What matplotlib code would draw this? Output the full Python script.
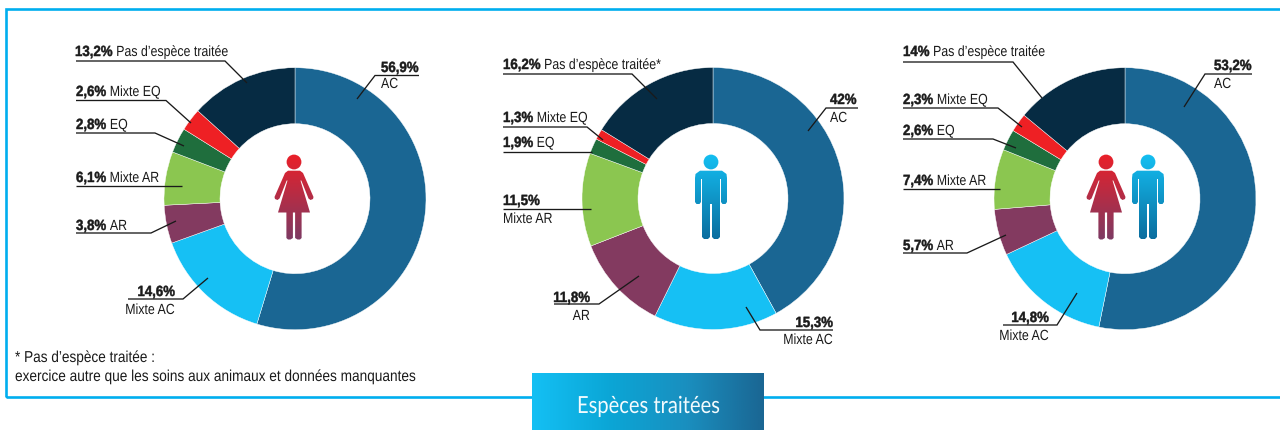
import numpy as np
import matplotlib
matplotlib.use("Agg")
import matplotlib.pyplot as plt
from matplotlib.colors import LinearSegmentedColormap
from matplotlib.patches import PathPatch, Rectangle
from matplotlib.path import Path
from matplotlib.patheffects import AbstractPathEffect
from matplotlib.transforms import Affine2D, Bbox

# ---- data ----
categories = ["AC", "Mixte AC", "AR", "Mixte AR", "EQ", "Mixte EQ", "Pas d\u2019esp\u00e8ce trait\u00e9e"]
# slice shares as drawn in the picture
values_women = [54.7, 14.8, 4.7, 6.6, 3.1, 2.8, 13.3]
values_men = [42.0, 15.3, 11.8, 11.5, 1.9, 1.3, 16.2]
values_all = [53.2, 14.8, 5.7, 7.4, 2.6, 2.3, 14.0]
# shares as printed in the labels
pct_women = ["56,9%", "14,6%", "3,8%", "6,1%", "2,8%", "2,6%", "13,2%"]
pct_men = ["42%", "15,3%", "11,8%", "11,5%", "1,9%", "1,3%", "16,2%"]
pct_all = ["53,2%", "14,8%", "5,7%", "7,4%", "2,6%", "2,3%", "14%"]
colors = ["#1a6693", "#16c0f4", "#833a60", "#8bc650", "#1f6e3d", "#ee2024", "#062b43"]

# ---- layout (pixels, y from the top) ----
W, H = 1280, 430
R_OUT, R_IN = 131, 75
lay_women = [
    (381, 72, "left", "above", 88, [(419, 75.5), (375, 75.5), (357, 99)]),
    (175, 296, "right", "above", 314, [(128, 299), (183, 299), (208, 278)]),
    (76, 230, "left", "inline", None, [(76, 233), (151, 233), (176, 221)]),
    (76, 182, "left", "inline", None, [(76, 186), (182, 186)]),
    (76, 129, "left", "inline", None, [(76, 133), (155, 133), (184, 146)]),
    (76, 96, "left", "inline", None, [(76, 100.5), (166, 100.5), (191, 123)]),
    (75, 56, "left", "inline", None, [(76, 61), (225, 61), (247, 83)]),
]
lay_men = [
    (830, 104, "left", "above", 122, [(858, 108), (826, 108), (808, 131)]),
    (833, 327, "right", "above", 344, [(833, 330), (760, 330), (746, 307)]),
    (590, 302, "right", "above", 320, [(554, 304), (599, 304), (639, 276)]),
    (503, 205, "left", "above", 223, [(503, 209), (591, 209)]),
    (503, 147, "left", "inline", None, [(503, 152), (592, 152)]),
    (503, 122, "left", "inline", None, [(503, 127), (587, 127), (603, 140)]),
    (503, 69, "left", "inline", None, [(503, 74), (632, 74), (657, 99)]),
]
lay_all = [
    (1214, 70, "left", "above", 88, [(1252, 74), (1205, 74), (1184, 107)]),
    (1049, 322, "right", "above", 340, [(1003, 325), (1057, 325), (1077, 293)]),
    (903, 250, "left", "inline", None, [(903, 253), (967, 253), (1006, 235)]),
    (903, 185, "left", "inline", None, [(903, 189), (1000, 189)]),
    (903, 135, "left", "inline", None, [(903, 139), (993, 139), (1016, 148)]),
    (903, 104, "left", "inline", None, [(903, 108), (998, 108), (1022, 127)]),
    (903, 56, "left", "inline", None, [(903, 62), (1013, 62), (1042, 98)]),
]

FONT = "Liberation Sans"
FS = 10.6
SX_REG = 0.84
SX_BOLD = 0.9
TXT = "#1a1a1a"
LINE = "#1a1a1a"

fig = plt.figure(figsize=(W / 100, H / 100), dpi=100, facecolor="white")
ax = fig.add_axes([0, 0, 1, 1])
rend = fig.canvas.get_renderer()


class Condense(AbstractPathEffect):
    """Draws real text squeezed horizontally, anchored on its left edge."""
    def __init__(self, sx, stroke=0.0, color=TXT):
        super().__init__()
        self.sx = sx
        self.stroke = stroke
        self.color = color

    def draw_path(self, renderer, gc, tpath, affine, rgbFace=None):
        tr = Affine2D().scale(self.sx, 1) + affine
        g = gc
        if self.stroke:
            g = renderer.new_gc()
            g.copy_properties(gc)
            g.set_foreground(self.color)
            g.set_linewidth(self.stroke)
        renderer.draw_path(g, tpath, tr, rgbFace)


def ctext(x, y, s, ha="left", sx=SX_REG, fit=None, zorder=6, stroke=0.0, **kw):
    kw.setdefault("family", FONT)
    kw.setdefault("fontsize", FS)
    kw.setdefault("color", TXT)
    t = ax.text(x, Y(y), s, ha="left", va="baseline", zorder=zorder, **kw)
    w = t.get_window_extent(rend).width
    if fit is not None:
        sx = fit / w
    off = {"left": 0, "right": sx * w, "center": sx * w / 2}[ha]
    t.set_x(x - off)
    t.set_path_effects([Condense(sx, stroke, kw["color"])])
    # report the drawn (squeezed) extent rather than the natural one
    orig = t.get_window_extent

    def extent(renderer=None, dpi=None, _o=orig, _s=sx):
        b = _o(renderer, dpi)
        return Bbox.from_extents(b.x0, b.y0, b.x0 + _s * b.width, b.y1)

    t.get_window_extent = extent
    return x - off + sx * w


def Y(y):
    return H - y


def reset():
    ax.set_xlim(0, W)
    ax.set_ylim(0, H)
    ax.set_aspect("auto")
    ax.axis("off")


reset()


def donut(cx, cy, vals):
    ax.pie(vals, colors=colors, center=(cx, Y(cy)), radius=R_OUT, startangle=90,
           counterclock=False, frame=True,
           wedgeprops=dict(width=R_OUT - R_IN, edgecolor="white", linewidth=0.3))
    reset()


def labels(lay, pcts, star=False):
    for i, (x, b, al, mode, b2, pts) in enumerate(lay):
        name = categories[i] + ("*" if star and i == 6 else "")
        ax.plot([p[0] for p in pts], [Y(p[1]) for p in pts], color=LINE, lw=0.95,
                solid_capstyle="butt", solid_joinstyle="miter", zorder=5)
        end = ctext(x, b, pcts[i], ha=al, weight="bold", sx=SX_BOLD, stroke=0.35)
        if mode == "inline":
            ctext(end + 3.5, b, name)
        else:
            ctext(x, b2, name, ha=al)


def mirror(right):
    pts = right + [(-a, b) for a, b in reversed(right)]
    return np.array(pts)


WOMAN = mirror([(0, 8.7), (6, 8.7), (9, 11), (19.5, 35), (19, 37), (16.5, 38), (14.5, 36.5),
                (7.3, 18.5), (6.5, 18.5), (16, 50.5), (7.6, 50.5), (7.6, 76), (6, 77.5),
                (3.5, 77.5), (1.1, 76), (1.1, 50.5), (0, 50.5)])
MAN = mirror([(0, 8.7), (11, 8.7), (15.5, 12), (16, 16), (16, 40), (14.5, 42), (11.5, 42), (10, 40),
              (10, 17), (9, 17), (9, 75), (7, 77), (3, 77), (1, 75), (1, 42), (0, 42)])
C_W = LinearSegmentedColormap.from_list("w", ["#ea2029", "#7d3a63"])
C_M = LinearSegmentedColormap.from_list("m", ["#14bff2", "#0b6d9e"])


def person(hx, hy, poly, cmap):
    top, bot = hy - 7.4, hy + 78
    circle = Path.circle((hx, Y(hy)), 7.4)
    body = Path(np.column_stack([hx + poly[:, 0], Y(hy + poly[:, 1])]), closed=False)
    grad = np.linspace(0, 1, 128)[:, None]
    for p in (circle, body):
        patch = PathPatch(p, fc="none", ec="none")
        ax.add_patch(patch)
        im = ax.imshow(grad, cmap=cmap, extent=(hx - 25, hx + 25, Y(bot), Y(top)),
                       aspect="auto", origin="upper", zorder=4)
        im.set_clip_path(patch)
    reset()


# frame
BLUE = "#00aeef"
ax.add_patch(Rectangle((6.2, Y(396.5)), W, 396.5 - 8.7, fc="none", ec=BLUE, lw=1.9, zorder=1))

donut(295, 198.7, values_women)
donut(713, 198.5, values_men)
donut(1125, 198.7, values_all)

labels(lay_women, pct_women)
labels(lay_men, pct_men, star=True)
labels(lay_all, pct_all)

person(294, 162, WOMAN, C_W)
person(711, 162, MAN, C_M)
person(1106, 162, WOMAN, C_W)
person(1148, 162, MAN, C_M)

# footnote
ctext(15, 362, "* Pas d\u2019esp\u00e8ce trait\u00e9e :", fit=140, fontsize=11.4)
ctext(15, 381, "exercice autre que les soins aux animaux et donn\u00e9es manquantes", fit=402, fontsize=11.4)

# banner
cm = LinearSegmentedColormap.from_list("b", ["#14c0f4", "#0ba6d6", "#1a8fbf", "#1a6693"])
ax.imshow(np.linspace(0, 1, 256)[None, :], cmap=cm, extent=(532, 764, Y(430), Y(373)),
          aspect="auto", zorder=3)
reset()
ctext(577, 413, "Esp\u00e8ces trait\u00e9es", fit=143, family="Lato", fontsize=17, color="#f2fbfe", zorder=4)

fig.savefig("out.png", dpi=100, facecolor="white")
